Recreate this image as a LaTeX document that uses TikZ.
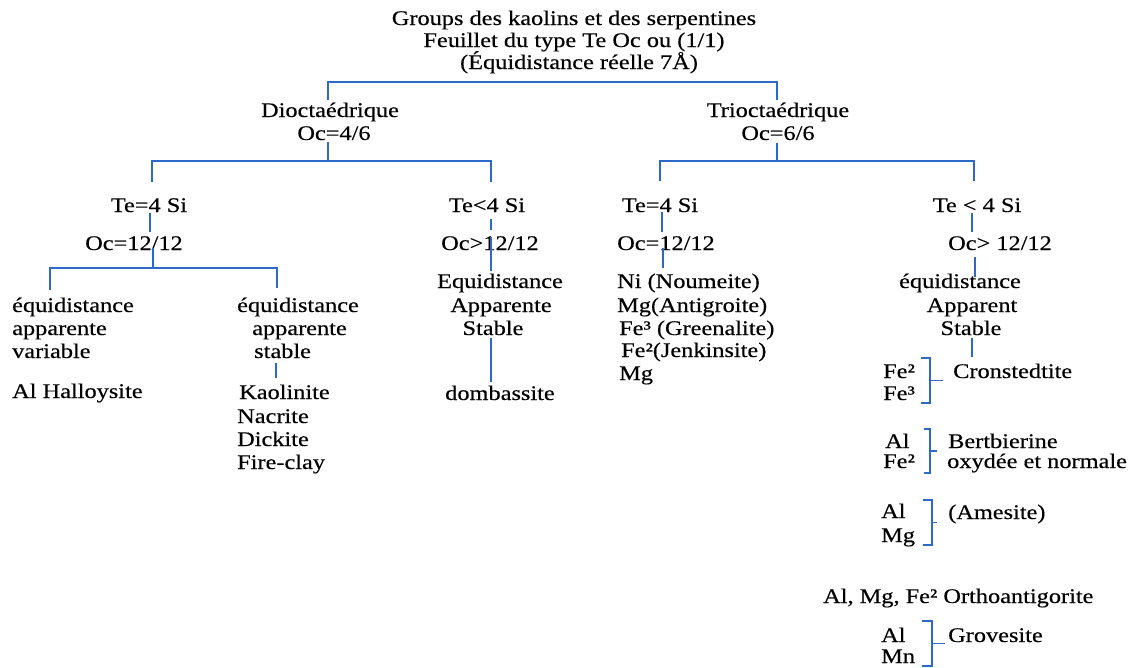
\documentclass[tikz,border=0pt]{standalone}
\usepackage{fontspec}
\setmainfont{Liberation Serif}[FakeStretch=1.17, FakeBold=0.35]
\usetikzlibrary{calc}
\definecolor{linkblue}{RGB}{45,105,200}

\begin{document}
\begin{tikzpicture}[x=1pt,y=-1pt,
  txt/.style={font=\fontsize{20.8}{23}\selectfont, inner sep=0pt, anchor=base},
  ltxt/.style={txt, anchor=base west},
  link/.style={draw=linkblue, line width=1.8pt},
  every node/.style={text=black}]
\useasboundingbox[fill=white] (0,0) rectangle (1137,667);

% ---- heading
\node[txt] (h1) at (574,25) {Groups des kaolins et des serpentines};
\node[txt] (h2) at (574,47) {Feuillet du type Te Oc ou (1/1)};
\node[txt] (h3) at (579,69) {(Équidistance réelle 7Å)};

% ---- first split
\node[txt] (dio) at (330,117) {Dioctaédrique};
\node[txt] (dioOc) at (334,140) {Oc=4/6};
\node[txt] (tri) at (778,117) {Trioctaédrique};
\node[txt] (triOc) at (778,140) {Oc=6/6};

\coordinate (topL) at ($(dio.base)+(-2,-17)$);
\coordinate (topR) at ($(tri.base)+(-1,-17)$);
\draw[link] (topL) -- ++(0,-18) -| (topR);

% ---- second level
\node[txt] (teA) at (149,212) {Te=4 Si};
\node[txt] (ocA) at (134,250) {Oc=12/12};
\node[txt] (teB) at (487,212) {Te<4 Si};
\node[txt] (ocB) at (490,250) {Oc>12/12};
\node[txt] (teC) at (660,212) {Te=4 Si};
\node[txt] (ocC) at (666,250) {Oc=12/12};
\node[txt] (teD) at (977,212) {Te < 4 Si};
\node[txt] (ocD) at (1000,250) {Oc> 12/12};

\coordinate (stubA) at ($(teA.base)+(3,-30)$);
\coordinate (stubB) at ($(teB.base)+(4,-30)$);
\coordinate (stubC) at ($(teC.base)+(0,-31)$);
\coordinate (stubD) at ($(teD.base)+(-3,-31)$);
\draw[link] (dioOc.base) ++(-6,2) -- ++(0,19) coordinate (hubDio);
\draw[link] (stubA) |- (hubDio) -| (stubB);
\draw[link] (triOc.base) ++(-1,3) -- ++(0,18) coordinate (hubTri);
\draw[link] (stubC) |- (hubTri) -| (stubD);

% ---- dioctahedral, Te=4 Si branch
\draw[link] (teA.base) ++(1,1) -- ++(0,19);
\draw[link] (ocA.base) ++(19,-2) -- ++(0,20) coordinate (hubA);

\node[ltxt] (vA1) at (12,312) {équidistance};
\node[ltxt] (vA2) at (12,335) {apparente};
\node[ltxt] (vA3) at (12,358) {variable};
\node[ltxt] (hal) at (12,398) {Al Halloysite};

\node[ltxt] (sA1) at (237,312) {équidistance};
\node[ltxt] (sA2) at (252,335) {apparente};
\node[ltxt] (sA3) at (254,358) {stable};
\node[ltxt] (kao) at (239,399) {Kaolinite};
\node[ltxt] (nac) at (237,423) {Nacrite};
\node[ltxt] (dic) at (237,446) {Dickite};
\node[ltxt] (fir) at (237,469) {Fire-clay};

\coordinate (stubV) at ($(vA1.base west)+(38,-22)$);
\coordinate (stubS) at ($(sA1.base west)+(40,-24)$);
\draw[link] (stubV) |- (hubA) -| (stubS);
\draw[link] (sA3.base west) ++(22,5) -- ++(0,15);

% ---- dioctahedral, Te<4 Si branch
\node[txt] (eqB1) at (500,288) {Equidistance};
\node[txt] (eqB2) at (501,312) {Apparente};
\node[txt] (eqB3) at (493,335) {Stable};
\node[txt] (dom) at (500,400) {dombassite};
\draw[link] (teB.base) ++(4,7) -- ++(0,11);
\draw[link] (ocB.base) ++(1,-13) -- ++(0,34);
\draw[link] (eqB3.base) ++(-2,3) -- ++(0,44);

% ---- trioctahedral, Te=4 Si branch
\draw[link] (teC.base) ++(2,0) -- ++(0,20);
\draw[link] (ocC.base) ++(-3,-2) -- ++(0,20);
\node[ltxt] (ni) at (617,288) {Ni (Noumeite)};
\node[ltxt] (mgA) at (617,312) {Mg(Antigroite)};
\node[ltxt] (gre) at (619,335) {Fe³ (Greenalite)};
\node[ltxt] (jen) at (621,357) {Fe²(Jenkinsite)};
\node[ltxt] (mgB) at (619,380) {Mg};

% ---- trioctahedral, Te<4 Si branch
\node[txt] (eqD1) at (960,288) {équidistance};
\node[txt] (eqD2) at (972,312) {Apparent};
\node[txt] (eqD3) at (971,335) {Stable};
\draw[link] (teD.base) ++(-5,1) -- ++(0,19);
\draw[link] (ocD.base) ++(-25,7) -- ++(0,20);
\draw[link] (eqD3.base) ++(1,3) -- ++(0,19);

% element pairs, each joined by a bracket to its mineral
\newcommand{\pairbracket}[5]{%
  \draw[link] (#1,#3) -| (#2,#4) -- (#1,#4);
  \draw[link] (#2,{(#3+#4)/2}) -- (#5,{(#3+#4)/2});}

\node[ltxt] (cr1) at (883,378) {Fe²};
\node[ltxt] (cr2) at (883,400) {Fe³};
\node[ltxt] (cro) at (953,378) {Cronstedtite};
\pairbracket{921}{930}{358}{403}{943}

\node[ltxt] (be1) at (885,448) {Al};
\node[ltxt] (be2) at (883,468) {Fe²};
\node[ltxt] (ber) at (948,448) {Bertbierine};
\node[ltxt] (oxy) at (947,468) {oxydée et normale};
\pairbracket{924}{930}{429}{473}{937}

\node[ltxt] (am1) at (881,518) {Al};
\node[ltxt] (am2) at (881,542) {Mg};
\node[ltxt] (ame) at (948,519) {(Amesite)};
\pairbracket{923}{932}{500}{545}{937}

\node[ltxt] (ort) at (823,603) {Al, Mg, Fe² Orthoantigorite};

\node[ltxt] (gr1) at (881,642) {Al};
\node[ltxt] (gr2) at (881,663) {Mn};
\node[ltxt] (gro) at (948,642) {Grovesite};
\pairbracket{922}{932}{621}{666}{945}
\end{tikzpicture}
\end{document}
